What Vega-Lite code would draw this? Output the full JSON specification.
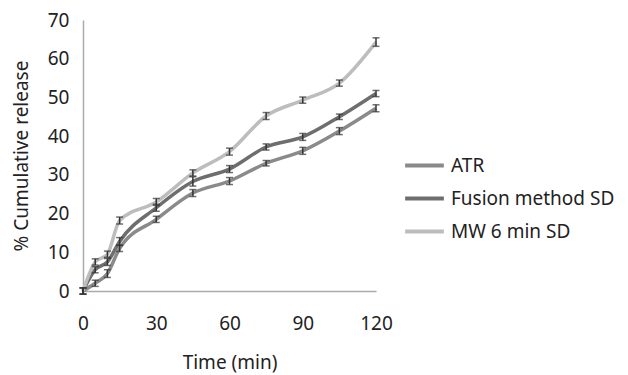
{
  "$schema": "https://vega.github.io/schema/vega-lite/v6.json",
  "autosize": {"type": "none"},
  "width": 293,
  "height": 271,
  "padding": {"left": 83, "top": 20, "right": 252, "bottom": 84},
  "background": "white",
  "config": {
    "view": {"stroke": null},
    "font": "Noto Sans",
    "axis": {"labelFont": "Noto Sans", "titleFont": "Noto Sans", "labelFontSize": 19, "titleFontSize": 19, "titleFontWeight": "normal", "labelColor": "#222", "titleColor": "#222", "domainColor": "#aaa", "domainWidth": 1.5, "grid": false, "ticks": false, "labelFlush": false},
    "legend": {"labelFont": "Noto Sans", "labelFontSize": 19, "labelColor": "#222", "labelLimit": 400}
  },
  "data": {"values": [
    {"t": 0, "v": 0, "e": 0.8, "s": "ATR"},
    {"t": 5, "v": 2, "e": 0.8, "s": "ATR"},
    {"t": 10, "v": 4.5, "e": 1, "s": "ATR"},
    {"t": 15, "v": 11, "e": 0.8, "s": "ATR"},
    {"t": 30, "v": 18.5, "e": 0.8, "s": "ATR"},
    {"t": 45, "v": 25.3, "e": 0.9, "s": "ATR"},
    {"t": 60, "v": 28.4, "e": 0.9, "s": "ATR"},
    {"t": 75, "v": 33, "e": 0.7, "s": "ATR"},
    {"t": 90, "v": 36.2, "e": 0.9, "s": "ATR"},
    {"t": 105, "v": 41.3, "e": 0.9, "s": "ATR"},
    {"t": 120, "v": 47.2, "e": 0.9, "s": "ATR"},
    {"t": 0, "v": 0, "e": 0.8, "s": "Fusion method SD"},
    {"t": 5, "v": 5.5, "e": 0.8, "s": "Fusion method SD"},
    {"t": 10, "v": 7.5, "e": 0.9, "s": "Fusion method SD"},
    {"t": 15, "v": 12.8, "e": 1, "s": "Fusion method SD"},
    {"t": 30, "v": 21.5, "e": 0.9, "s": "Fusion method SD"},
    {"t": 45, "v": 28.3, "e": 1.2, "s": "Fusion method SD"},
    {"t": 60, "v": 31.5, "e": 0.9, "s": "Fusion method SD"},
    {"t": 75, "v": 37.2, "e": 0.8, "s": "Fusion method SD"},
    {"t": 90, "v": 39.8, "e": 0.9, "s": "Fusion method SD"},
    {"t": 105, "v": 45, "e": 0.7, "s": "Fusion method SD"},
    {"t": 120, "v": 51, "e": 0.8, "s": "Fusion method SD"},
    {"t": 0, "v": 0, "e": 0.8, "s": "MW 6 min SD"},
    {"t": 5, "v": 7.5, "e": 0.8, "s": "MW 6 min SD"},
    {"t": 10, "v": 9.5, "e": 0.8, "s": "MW 6 min SD"},
    {"t": 15, "v": 18.2, "e": 0.9, "s": "MW 6 min SD"},
    {"t": 30, "v": 23, "e": 0.9, "s": "MW 6 min SD"},
    {"t": 45, "v": 30.5, "e": 0.8, "s": "MW 6 min SD"},
    {"t": 60, "v": 36, "e": 0.9, "s": "MW 6 min SD"},
    {"t": 75, "v": 45.2, "e": 0.9, "s": "MW 6 min SD"},
    {"t": 90, "v": 49.3, "e": 0.8, "s": "MW 6 min SD"},
    {"t": 105, "v": 53.7, "e": 0.8, "s": "MW 6 min SD"},
    {"t": 120, "v": 64.3, "e": 1.1, "s": "MW 6 min SD"}
  ]},
  "encoding": {
    "x": {"field": "t", "type": "quantitative", "scale": {"domain": [0, 120], "nice": false}, "axis": {"values": [0, 30, 60, 90, 120], "title": "Time (min)", "titlePadding": 20, "labelPadding": 23}},
    "y": {"field": "v", "type": "quantitative", "scale": {"domain": [0, 70], "nice": false}, "axis": {"values": [0, 10, 20, 30, 40, 50, 60, 70], "title": "% Cumulative release", "titlePadding": 16, "labelPadding": 14}}
  },
  "layer": [
    {
      "mark": {"type": "line", "strokeWidth": 3.5, "interpolate": "monotone"},
      "encoding": {
        "color": {"field": "s", "type": "nominal", "scale": {"domain": ["ATR", "Fusion method SD", "MW 6 min SD"], "range": ["#8a8a8a", "#6e6e6e", "#bdbdbd"]},
          "legend": {"title": null, "orient": "none", "legendX": 320, "legendY": 124, "symbolType": "stroke", "symbolStrokeWidth": 4, "symbolSize": 1500, "rowPadding": 1, "labelOffset": 5}}
      }
    },
    {
      "mark": {"type": "errorbar", "ticks": {"size": 7, "color": "#333"}, "color": "#333", "thickness": 1.5},
      "encoding": {
        "yError": {"field": "e"}
      }
    }
  ]
}
